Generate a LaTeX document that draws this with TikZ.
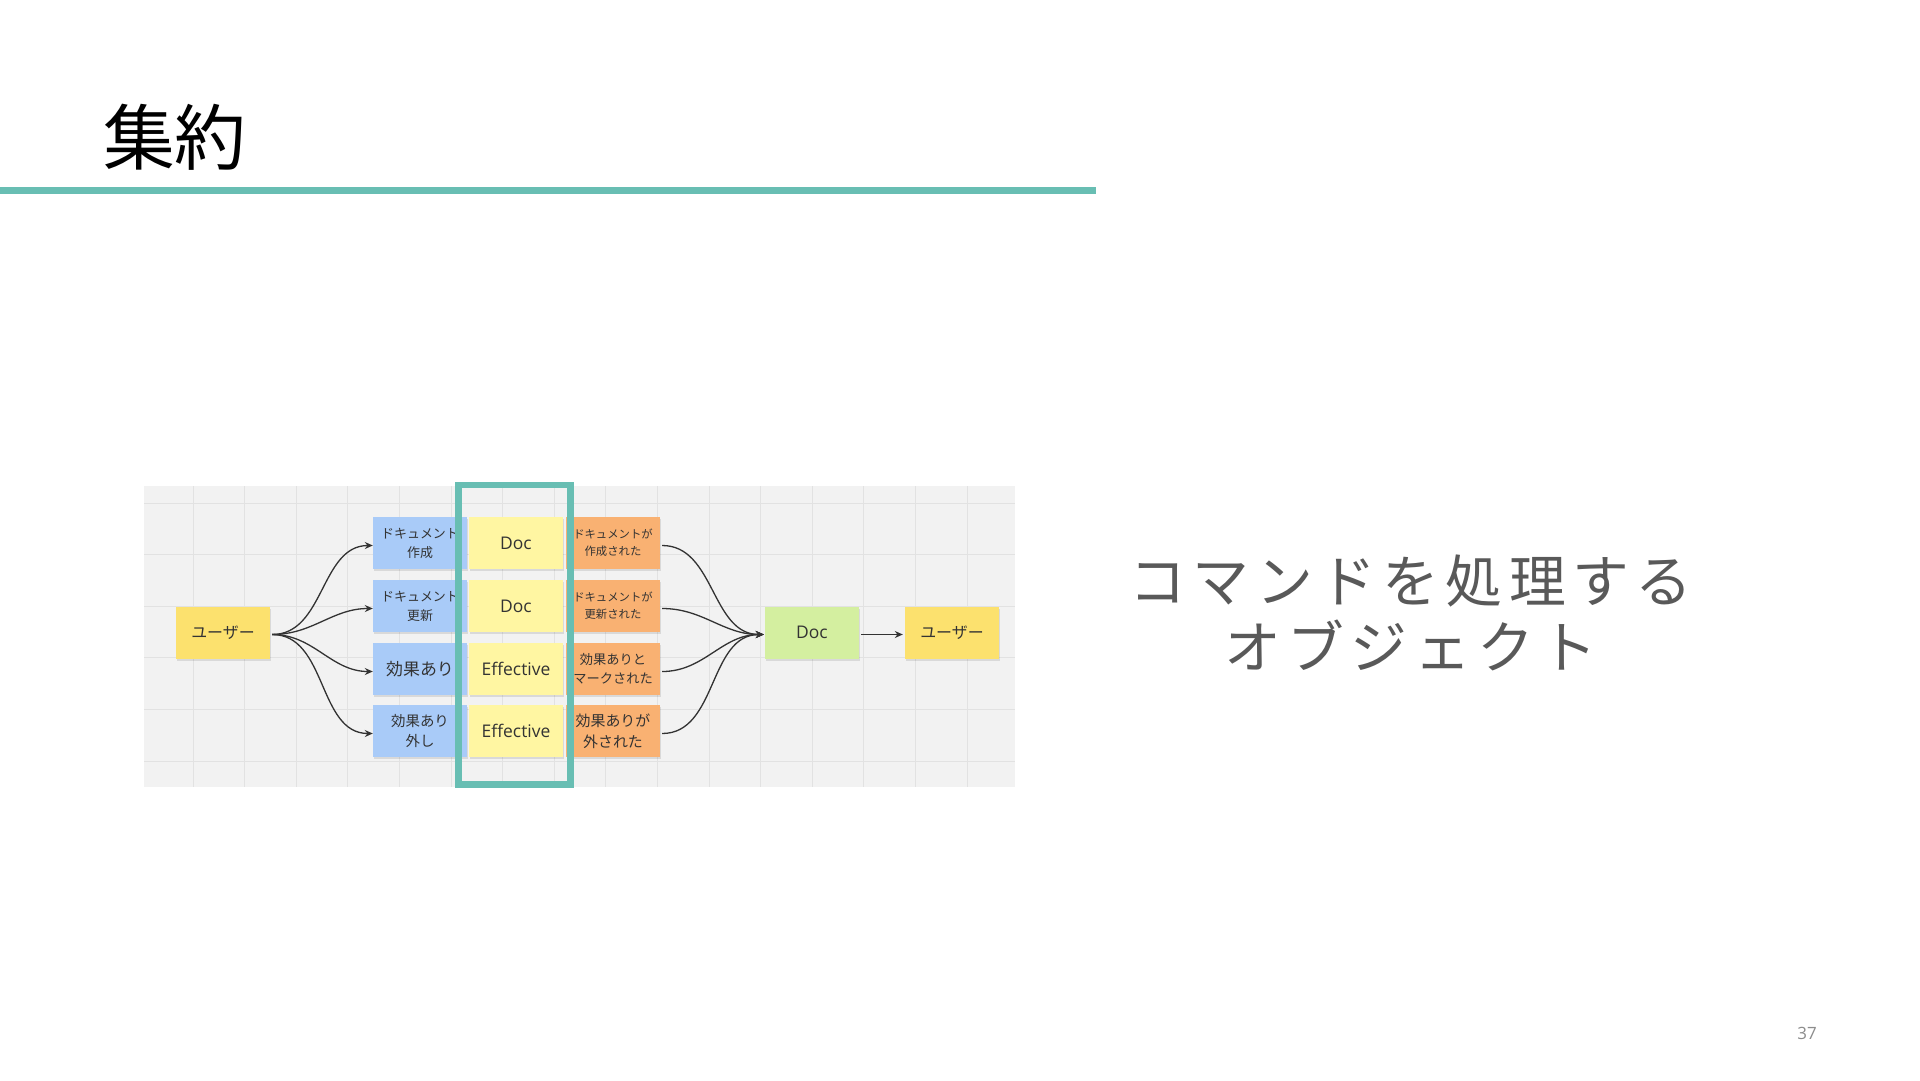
\documentclass[tikz,border=0pt]{standalone}
\usepackage{fontspec}
\usetikzlibrary{arrows.meta,shadows}
\newfontfamily\cjk{Noto Sans CJK JP}
\newfontfamily\cjkspaced[LetterSpace=11.4]{Noto Sans CJK JP}
\newfontfamily\latn{Open Sans}
\definecolor{teal}{HTML}{68BEB3}
\definecolor{bgc}{HTML}{F2F2F2}
\definecolor{gridc}{HTML}{E2E2E2}
\definecolor{stblue}{HTML}{A9CBF8}
\definecolor{stpale}{HTML}{FFF6A2}
\definecolor{styel}{HTML}{FCE16E}
\definecolor{storange}{HTML}{F9B172}
\definecolor{stgreen}{HTML}{D4EFA0}
\definecolor{ink}{HTML}{333333}
\definecolor{graytext}{HTML}{595959}
\tikzset{
  sticky/.style={minimum width=94bp, minimum height=52bp, inner sep=0pt, align=center, text=ink,
    drop shadow={shadow xshift=1bp, shadow yshift=-2bp, opacity=0.10, fill=black}},
  userbox/.style={sticky, fill=styel, font={\cjk\fontsize{16}{20}\selectfont}},
  cmdbox/.style={sticky, fill=stblue},
  aggbox/.style={sticky, fill=stpale, font={\latn\fontsize{17.5}{21}\selectfont}},
  evbox/.style={sticky, fill=storange},
  docbox/.style={sticky, fill=stgreen, font={\latn\fontsize{17.5}{21}\selectfont}},
  flow/.style={draw=ink, line width=1.3bp, -{Stealth[length=8bp,width=7bp]}},
  gridline/.style={draw=gridc, line width=1bp},
}
\begin{document}
\begin{tikzpicture}[x=1bp,y=-1bp]
\useasboundingbox (0,0) rectangle (1920,1080);
\fill[white] (0,0) rectangle (1920,1080);
% title
\node[anchor=west, inner sep=0pt, font={\cjk\fontsize{72}{80}\selectfont}] (title) at (103,137) {集約};
\fill[teal] (0,187) rectangle (1096,193.5);
% diagram background
\fill[bgc] (144,486) rectangle (1015,787);
\foreach \i in {0,...,15} \draw[gridline] ({193+\i*51.6},486) -- ({193+\i*51.6},787);
\foreach \j in {0,...,5} \draw[gridline] (144,{503+\j*51.6}) -- (1015,{503+\j*51.6});
% nodes
\node[userbox] (u1) at (223,632.5) {ユーザー};
\node[cmdbox, font={\cjk\fontsize{13}{19}\selectfont}] (c1) at (420,543) {ドキュメント\\作成};
\node[cmdbox, font={\cjk\fontsize{13}{19}\selectfont}] (c2) at (420,606) {ドキュメント\\更新};
\node[cmdbox, font={\cjk\fontsize{17}{21}\selectfont}] (c3) at (420,669) {効果あり};
\node[cmdbox, font={\cjk\fontsize{14.5}{21}\selectfont}] (c4) at (420,731) {効果あり\\外し};
\node[aggbox] (a1) at (516,543) {Doc};
\node[aggbox] (a2) at (516,606) {Doc};
\node[aggbox] (a3) at (516,669) {Effective};
\node[aggbox] (a4) at (516,731) {Effective};
\node[evbox, font={\cjk\fontsize{11.4}{17}\selectfont}] (e1) at (613,543) {ドキュメントが\\作成された};
\node[evbox, font={\cjk\fontsize{11.4}{17}\selectfont}] (e2) at (613,606) {ドキュメントが\\更新された};
\node[evbox, font={\cjk\fontsize{13.3}{19}\selectfont}] (e3) at (613,669) {効果ありと\\マークされた};
\node[evbox, font={\cjk\fontsize{15}{21}\selectfont}] (e4) at (613,731) {効果ありが\\外された};
\node[docbox] (d) at (812,632.5) {Doc};
\node[userbox] (u2) at (952,632.5) {ユーザー};
% connectors
\foreach \c in {c1,c2,c3,c4}
  \draw[flow] ([xshift=2bp,yshift=-2bp]u1.east) to[out=0,in=180] ([yshift=-2.5bp]\c.west);
\foreach \e in {e1,e2,e3,e4}
  \draw[flow] ([xshift=2bp,yshift=-2.5bp]\e.east) to[out=0,in=180] ([xshift=-1bp,yshift=-2bp]d.west);
\draw[flow] ([xshift=2bp,yshift=-2bp]d.east) -- ([xshift=-2bp,yshift=-2bp]u2.west);
% aggregate frame
\draw[teal, line width=6.5bp] (458.5,485) rectangle (570.5,784.5);
% right text
\node[inner sep=0pt, align=center, text=graytext, font={\cjkspaced\fontsize{57}{66}\selectfont}] (desc) at (1411,613) {コマンドを処理する\\オブジェクト};
% page number
\node[inner sep=0pt, text=black!45, font={\latn\fontsize{17}{20}\selectfont}] (pg) at (1807,1033) {37};
\end{tikzpicture}
\end{document}
